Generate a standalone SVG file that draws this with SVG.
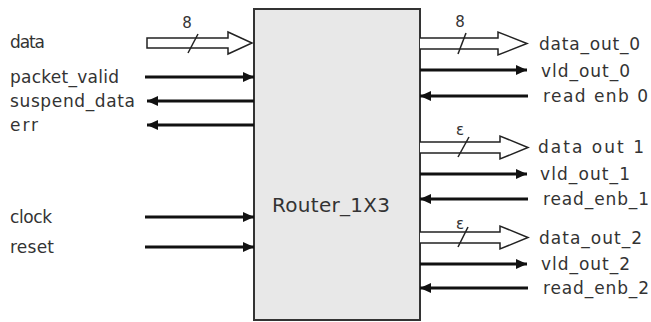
<svg xmlns="http://www.w3.org/2000/svg" width="651" height="322" viewBox="0 0 651 322">
<style>
  .lbl { font-family: "DejaVu Sans", Verdana, sans-serif; font-size: 17px; fill: #333; }
  .num { font-family: "DejaVu Sans", Verdana, sans-serif; font-size: 15px; fill: #333; text-anchor: middle; }
  .sig { stroke: #111; stroke-width: 3; fill: none; marker-end: url(#ah); }
  .bus { stroke: #222; stroke-width: 1.5; fill: #fff; }
  .slash { stroke: #222; stroke-width: 1.5; }
</style>
<defs>
  <marker id="ah" markerUnits="userSpaceOnUse" markerWidth="12" markerHeight="11" refX="11" refY="5" orient="auto">
    <path d="M0,0 L11,5 L0,10 z" fill="#111"/>
  </marker>
</defs>
<rect width="651" height="322" fill="#fff"/>
<g id="router">
  <rect x="254" y="9" width="166" height="311" fill="#e8e8e8" stroke="#333" stroke-width="2"/>
  <text class="lbl" x="272" y="212" style="font-size:20px" textLength="118">Router_1X3</text>
</g>
<g id="connectors">
  <path class="bus" d="M147,38 H228 V32 L252,43 L228,54 V48 H147 Z"/>
  <line class="slash" x1="188" y1="53" x2="198" y2="34"/>
  <line class="sig" x1="145" y1="77" x2="254" y2="77"/>
  <line class="sig" x1="254" y1="101" x2="147" y2="101"/>
  <line class="sig" x1="254" y1="125" x2="147" y2="125"/>
  <line class="sig" x1="145" y1="217" x2="254" y2="217"/>
  <line class="sig" x1="145" y1="247" x2="254" y2="247"/>

  <path class="bus" d="M420,38 H498 V32 L527,43.5 L498,55 V49 H420"/>
  <line class="slash" x1="458" y1="54" x2="466" y2="33"/>
  <line class="sig" x1="420" y1="70" x2="527" y2="70"/>
  <line class="sig" x1="528" y1="96" x2="420" y2="96"/>

  <path class="bus" d="M420,142 H500 V136 L528,147.5 L500,159 V153 H420"/>
  <line class="slash" x1="458" y1="157" x2="469" y2="137"/>
  <line class="sig" x1="420" y1="174" x2="527" y2="174"/>
  <line class="sig" x1="528" y1="199" x2="420" y2="199"/>

  <path class="bus" d="M420,232 H500 V226 L528,237.5 L500,249 V243 H420"/>
  <line class="slash" x1="458" y1="247" x2="468" y2="227"/>
  <line class="sig" x1="420" y1="264" x2="527" y2="264"/>
  <line class="sig" x1="528" y1="288" x2="420" y2="288"/>
</g>
<g id="labels-left">
  <text class="lbl" x="10" y="48" textLength="35">data</text>
  <text class="lbl" x="10" y="83" textLength="109">packet_valid</text>
  <text class="lbl" x="10" y="107" textLength="125">suspend_data</text>
  <text class="lbl" x="10" y="131" textLength="28">err</text>
  <text class="lbl" x="10" y="223" textLength="42">clock</text>
  <text class="lbl" x="10" y="253" textLength="44">reset</text>
  <text class="num" x="187" y="28">8</text>
</g>
<g id="labels-right">
  <text class="num" x="460" y="27">8</text>
  <text class="lbl" x="539" y="50" textLength="101">data_out_0</text>
  <text class="lbl" x="541" y="77" textLength="89">vld_out_0</text>
  <text class="lbl" x="543" y="102" textLength="105">read enb 0</text>
  <text class="num" x="460" y="135">ε</text>
  <text class="lbl" x="538" y="153" textLength="106">data out 1</text>
  <text class="lbl" x="540" y="180" textLength="90">vld_out_1</text>
  <text class="lbl" x="543" y="205" textLength="106">read_enb_1</text>
  <text class="num" x="460" y="229">ε</text>
  <text class="lbl" x="539" y="244" textLength="103">data_out_2</text>
  <text class="lbl" x="541" y="270" textLength="89">vld_out_2</text>
  <text class="lbl" x="543" y="294" textLength="106">read_enb_2</text>
</g>
</svg>
